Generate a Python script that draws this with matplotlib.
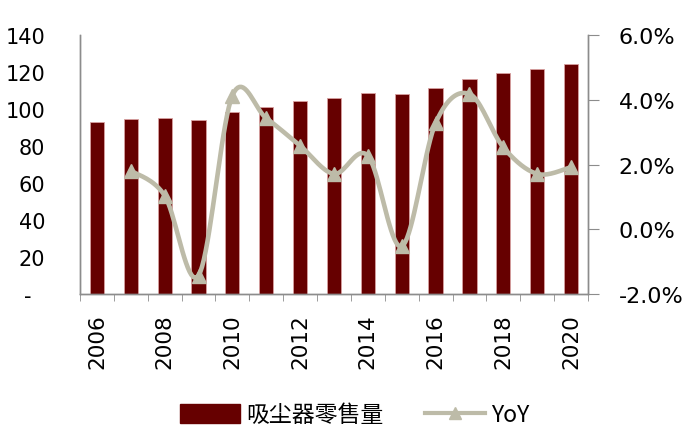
import numpy as np
import matplotlib
matplotlib.use("Agg")
import matplotlib.pyplot as plt
from matplotlib.lines import Line2D
from matplotlib.patches import Patch

plt.rcParams['font.family'] = ['Noto Sans CJK SC', 'DejaVu Sans']

years = list(range(2006, 2021))
sales = [92.8, 94.8, 95.1, 94.0, 98.2, 101.3, 104.1, 105.9,
         108.5, 107.9, 111.3, 116.2, 119.3, 121.6, 124.1]
yoy_years = list(range(2007, 2021))
yoy = [1.81, 1.04, -1.43, 4.13, 3.43, 2.58, 1.71,
       2.27, -0.53, 3.28, 4.18, 2.53, 1.71, 1.92]
year_labels = [str(y) if y % 2 == 0 else "" for y in years]

bar_color = "#660000"
line_color = "#BDBBA8"
spine_color = "#8c8c8c"


def smooth(xs, ys, n=20):
    # Catmull-Rom style smoothing, like Excel's smoothed line
    xs = np.asarray(xs, float)
    ys = np.asarray(ys, float)
    px = np.concatenate([[xs[0]], xs, [xs[-1]]])
    py = np.concatenate([[ys[0]], ys, [ys[-1]]])
    outx, outy = [], []
    for i in range(1, len(px) - 2):
        p0x, p1x, p2x, p3x = px[i - 1], px[i], px[i + 1], px[i + 2]
        p0y, p1y, p2y, p3y = py[i - 1], py[i], py[i + 1], py[i + 2]
        c1x = p1x + (p2x - p0x) / 6
        c1y = p1y + (p2y - p0y) / 6
        c2x = p2x - (p3x - p1x) / 6
        c2y = p2y - (p3y - p1y) / 6
        t = np.linspace(0, 1, n)
        bx = (1-t)**3*p1x + 3*(1-t)**2*t*c1x + 3*(1-t)*t**2*c2x + t**3*p2x
        by = (1-t)**3*p1y + 3*(1-t)**2*t*c1y + 3*(1-t)*t**2*c2y + t**3*p2y
        outx.extend(bx)
        outy.extend(by)
    return np.array(outx), np.array(outy)


fig = plt.figure(figsize=(6.93, 4.39), dpi=100)
ax = fig.add_axes([0.1154, 0.328, 0.7331, 0.590])
ax2 = ax.twinx()

x = np.arange(len(years))
ax.bar(x, sales, width=0.42, color=bar_color, edgecolor="#d8a0a0",
       linewidth=0.6, zorder=2)
ax.set_xlim(-0.5, len(years) - 0.5)
ax.set_ylim(0, 140)
ax.set_yticks(np.arange(0, 141, 20))
ax.set_yticklabels(["-  "] + [str(v) for v in range(20, 141, 20)],
                   fontsize=15, family="DejaVu Sans")
ax.tick_params(axis="y", length=0, pad=25)
ax.set_xticks(x)
ax.set_xticklabels(year_labels, rotation=90, fontsize=15.5,
                   family="DejaVu Sans")
ax.tick_params(axis="x", which="major", length=0, pad=14)
ax.set_xticks(np.arange(-0.5, len(years), 1), minor=True)
ax.tick_params(axis="x", which="minor", length=5, color=spine_color)

xi = np.array([years.index(y) for y in yoy_years])
sx, sy = smooth(xi, yoy)
ax2.plot(sx, sy, color=line_color, lw=3.3, zorder=3, solid_capstyle="round")
ax2.plot(xi, yoy, ls="none", marker="^", ms=10, color=line_color, zorder=4)
ax2.set_ylim(-2, 6)
ax2.set_yticks([-2, 0, 2, 4, 6])
ax2.set_yticklabels(["-2.0%", "0.0%", "2.0%", "4.0%", "6.0%"],
                    fontsize=16, family="DejaVu Sans")
ax2.tick_params(axis="y", length=8, color=spine_color, pad=14)

for a in (ax, ax2):
    a.spines["top"].set_visible(False)
    for s in ("left", "right", "bottom"):
        a.spines[s].set_color(spine_color)
        a.spines[s].set_linewidth(1)

handles = [Patch(facecolor=bar_color, edgecolor=bar_color),
           Line2D([0], [0], color=line_color, lw=3, marker="^", ms=8)]
fig.legend(handles, ["吸尘器零售量", "YoY"], loc="center",
           bbox_to_anchor=(0.512, 1 - 416 / 439), ncol=2, frameon=False,
           fontsize=16.5, handlelength=2.6, handleheight=0.9,
           columnspacing=1.8, handletextpad=0.3)

fig.savefig("out.png", dpi=100)
